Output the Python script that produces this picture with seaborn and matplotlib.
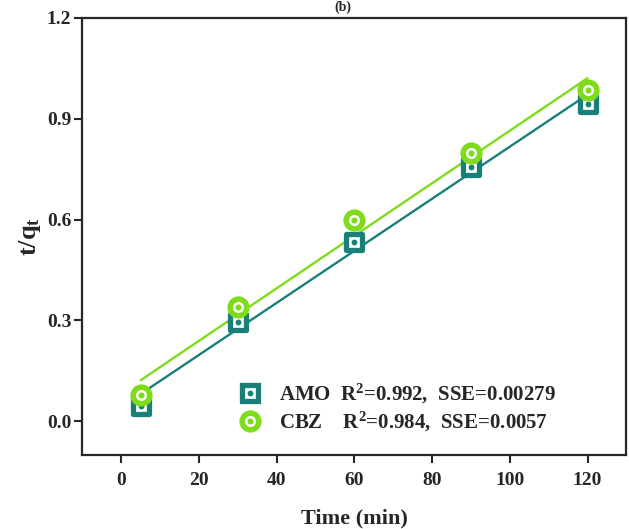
import numpy as np
import pandas as pd
import seaborn as sns
import matplotlib.pyplot as plt
from matplotlib.lines import Line2D

# values
time = [5, 30, 60, 90, 120]
amo = [0.047, 0.296, 0.534, 0.756, 0.943]
cbz = [0.078, 0.340, 0.598, 0.798, 0.986]
labels = ['AMO  R$^2$=0.992,  SSE=0.00279', 'CBZ    R$^2$=0.984,  SSE=0.0057']
xticks = [0, 20, 40, 60, 80, 100, 120]
yticks = [0.0, 0.3, 0.6, 0.9, 1.2]

teal = '#1b7f79'
green = '#7fdc1c'

sns.set_style('ticks')
plt.rcParams['font.family'] = 'serif'
plt.rcParams['font.serif'] = ['Liberation Serif']
plt.rcParams['font.weight'] = 'bold'
plt.rcParams['mathtext.fontset'] = 'custom'
plt.rcParams['mathtext.rm'] = 'Liberation Serif:bold'
plt.rcParams['mathtext.it'] = 'Liberation Serif:bold'
plt.rcParams['mathtext.bf'] = 'Liberation Serif:bold'

df = pd.DataFrame({'time': time, 'AMO': amo, 'CBZ': cbz})

fig, ax = plt.subplots(figsize=(6.29, 5.29), dpi=100)
fig.subplots_adjust(left=0.131, right=0.996, top=0.966, bottom=0.140)

# linear fits
sns.regplot(data=df, x='time', y='AMO', ci=None, scatter=False, truncate=True,
            color=teal, line_kws={'lw': 1.7}, ax=ax)
sns.regplot(data=df, x='time', y='CBZ', ci=None, scatter=False, truncate=True,
            color=green, line_kws={'lw': 1.7}, ax=ax)

# markers
sq, sq_e, ci_s, ci_e = 11.0, 3.8, 12.0, 4.0
sns.scatterplot(data=df, x='time', y='AMO', marker='s', s=sq**2, facecolor='white',
                edgecolor=teal, linewidth=sq_e, ax=ax, zorder=3)
sns.scatterplot(data=df, x='time', y='AMO', marker='o', s=4.2**2, color=teal,
                edgecolor=teal, linewidth=0, ax=ax, zorder=4)
sns.scatterplot(data=df, x='time', y='CBZ', marker='o', s=ci_s**2, facecolor='white',
                edgecolor=green, linewidth=ci_e, ax=ax, zorder=5)
sns.scatterplot(data=df, x='time', y='CBZ', marker='o', s=4.4**2, color=green,
                edgecolor=green, linewidth=0, ax=ax, zorder=6)

h_amo = (Line2D([], [], ls='', marker='s', ms=sq, mfc='white', mec=teal, mew=sq_e),
         Line2D([], [], ls='', marker='o', ms=4.2, mfc=teal, mec=teal, mew=0))
h_cbz = (Line2D([], [], ls='', marker='o', ms=ci_s, mfc='white', mec=green, mew=ci_e),
         Line2D([], [], ls='', marker='o', ms=4.4, mfc=green, mec=green, mew=0))
ax.legend([h_amo, h_cbz], labels, loc='lower right', bbox_to_anchor=(0.905, 0.005),
          frameon=False, handletextpad=0.4, labelspacing=0.2,
          prop={'family': 'Liberation Serif', 'size': 15, 'weight': 'bold'})

ax.set_xlim(-10, 130)
ax.set_ylim(-0.1, 1.2)
ax.set_xticks(xticks)
ax.set_yticks(yticks)
ax.set_xticklabels([str(v) for v in xticks])
ax.set_yticklabels([f'{v:.1f}' for v in yticks])
ax.tick_params(axis='both', labelsize=14, width=1.5, length=6, direction='out')
ax.tick_params(axis='x', pad=6)
ax.tick_params(axis='y', pad=2)
for sp in ax.spines.values():
    sp.set_linewidth(1.6)
ax.set_xlabel('Time (min)', fontsize=16, fontweight='bold', labelpad=14)
ax.set_ylabel('t/q$_\\mathrm{t}$', fontsize=19, fontweight='bold', labelpad=3)
for lab in ax.get_xticklabels() + ax.get_yticklabels():
    lab.set_fontweight('bold')

fig.text(0.545, 0.999, '(b)', ha='center', va='top', fontsize=10, fontweight='bold')

fig.savefig('out.png', dpi=100)
